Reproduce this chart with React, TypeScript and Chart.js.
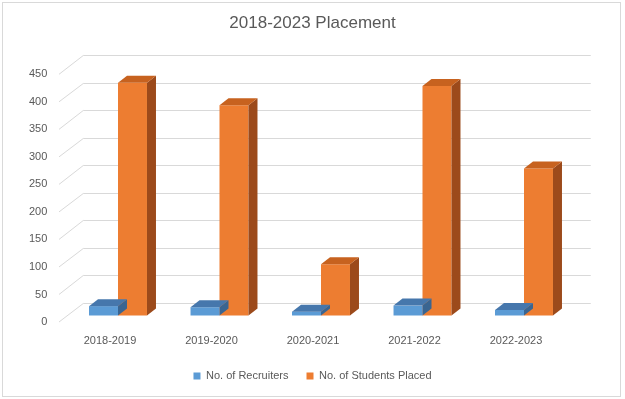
import React, { useEffect, useRef } from "react";
import { Chart, registerables } from "chart.js";

Chart.register(...registerables);

const categories = ["2018-2019", "2019-2020", "2020-2021", "2021-2022", "2022-2023"];
const recruiters = [17, 15, 7, 18, 10];
const studentsPlaced = [423, 382, 93, 417, 267];
const seriesNames = ["No. of Recruiters", "No. of Students Placed"];
const titleText = "2018-2023 Placement";

const FONT = "'Liberation Sans', Arial, sans-serif";
const GRID = "#D9D9D9";
const TEXT = "#595959";

// 3D geometry (pixels)
const BACK_DX = 16, BACK_DY = 12.8;   // bar plane -> back wall
const FRONT_DX = 8.25, FRONT_DY = 6.5; // bar plane -> front (labels)
const BAR_DX = 9, BAR_DY = 7;          // bar depth

const faceColors = [
  { top: "#4677AC", side: "#3A6591" },
  { top: "#C7621F", side: "#9C4A1B" },
];

const threeD = {
  id: "threeD",
  beforeDraw(chart: any) {
    const ctx = chart.ctx;
    ctx.save();
    ctx.fillStyle = "#FFFFFF";
    ctx.fillRect(0, 0, chart.width, chart.height);
    ctx.strokeStyle = GRID;
    ctx.lineWidth = 1;
    ctx.strokeRect(2.5, 2.5, 618, 394);
    ctx.restore();
  },
  beforeDatasetsDraw(chart: any) {
    const ctx = chart.ctx;
    const y = chart.scales.y;
    const area = chart.chartArea;
    ctx.save();
    ctx.strokeStyle = GRID;
    ctx.lineWidth = 1;
    y.ticks.forEach((t: any) => {
      const py = y.getPixelForValue(t.value);
      const by = Math.round(py - BACK_DY) + 0.5;
      ctx.beginPath();
      ctx.moveTo(area.left + BACK_DX, by);
      ctx.lineTo(area.right + BACK_DX, by);
      ctx.stroke();
      ctx.beginPath();
      ctx.moveTo(area.left - FRONT_DX, py + FRONT_DY);
      ctx.lineTo(area.left + BACK_DX, by);
      ctx.stroke();
    });
    ctx.restore();
  },
  afterDatasetDraw(chart: any, args: any) {
    const ctx = chart.ctx;
    const meta = args.meta;
    const c = faceColors[args.index];
    ctx.save();
    meta.data.forEach((bar: any) => {
      const p = bar.getProps(["x", "y", "base", "width"], true);
      const l = p.x - p.width / 2;
      const r = p.x + p.width / 2;
      const t = p.y;
      const b = p.base;
      ctx.fillStyle = c.side;
      ctx.beginPath();
      ctx.moveTo(r, t);
      ctx.lineTo(r + BAR_DX, t - BAR_DY);
      ctx.lineTo(r + BAR_DX, b - BAR_DY);
      ctx.lineTo(r, b);
      ctx.closePath();
      ctx.fill();
      ctx.fillStyle = c.top;
      ctx.beginPath();
      ctx.moveTo(l, t);
      ctx.lineTo(r, t);
      ctx.lineTo(r + BAR_DX, t - BAR_DY);
      ctx.lineTo(l + BAR_DX, t - BAR_DY);
      ctx.closePath();
      ctx.fill();
    });
    ctx.restore();
  },
};

export default function App() {
  const ref = useRef<HTMLCanvasElement>(null);
  useEffect(() => {
    if (!ref.current) return;
    const chart = new Chart(ref.current, {
      type: "bar",
      data: {
        labels: categories,
        datasets: [
          {
            label: seriesNames[0],
            data: recruiters,
            backgroundColor: "#5B9BD5",
            categoryPercentage: 0.571,
            barPercentage: 1,
            clip: false as any,
          },
          {
            label: seriesNames[1],
            data: studentsPlaced,
            backgroundColor: "#ED7D31",
            categoryPercentage: 0.571,
            barPercentage: 1,
            clip: false as any,
          },
        ],
      },
      options: {
        responsive: false,
        animation: false,
        layout: { padding: { left: 0, right: 0, top: 0, bottom: 7.5 } },
        plugins: {
          title: {
            display: true,
            text: titleText,
            color: TEXT,
            font: { family: FONT, size: 17, weight: "normal", lineHeight: 1.2 },
            padding: { top: 13, bottom: 34.4 },
          },
          legend: {
            position: "bottom",
            labels: {
              boxWidth: 7,
              boxHeight: 7,
              padding: 18,
              color: TEXT,
              font: { family: FONT, size: 11 },
            },
          },
          tooltip: { enabled: false },
        },
        scales: {
          x: {
            grid: { display: false, drawTicks: false },
            border: { display: false },
            ticks: {
              color: TEXT,
              font: { family: FONT, size: 11 },
              padding: 19,
              labelOffset: -8,
              maxRotation: 0,
            },
            afterFit: (s: any) => {
              s.height = 37;
            },
          },
          y: {
            min: 0,
            max: 450,
            grid: { display: false, drawTicks: false },
            border: { display: false },
            ticks: {
              stepSize: 50,
              color: TEXT,
              font: { family: FONT, size: 11 },
              padding: 20,
              labelOffset: 6.5,
            },
            afterFit: (s: any) => {
              s.width = 67.25;
            },
          },
          yRight: {
            type: "linear",
            position: "right",
            display: true,
            grid: { display: false, drawTicks: false },
            border: { display: false },
            ticks: { display: false },
            afterFit: (s: any) => {
              s.width = 50.25;
            },
          },
        },
      },
      plugins: [threeD],
    });
    return () => chart.destroy();
  }, []);
  return (
    <div style={{ position: "absolute", left: 0, top: 0, width: 625, height: 399 }}>
      <canvas ref={ref} width={625} height={399} />
    </div>
  );
}
